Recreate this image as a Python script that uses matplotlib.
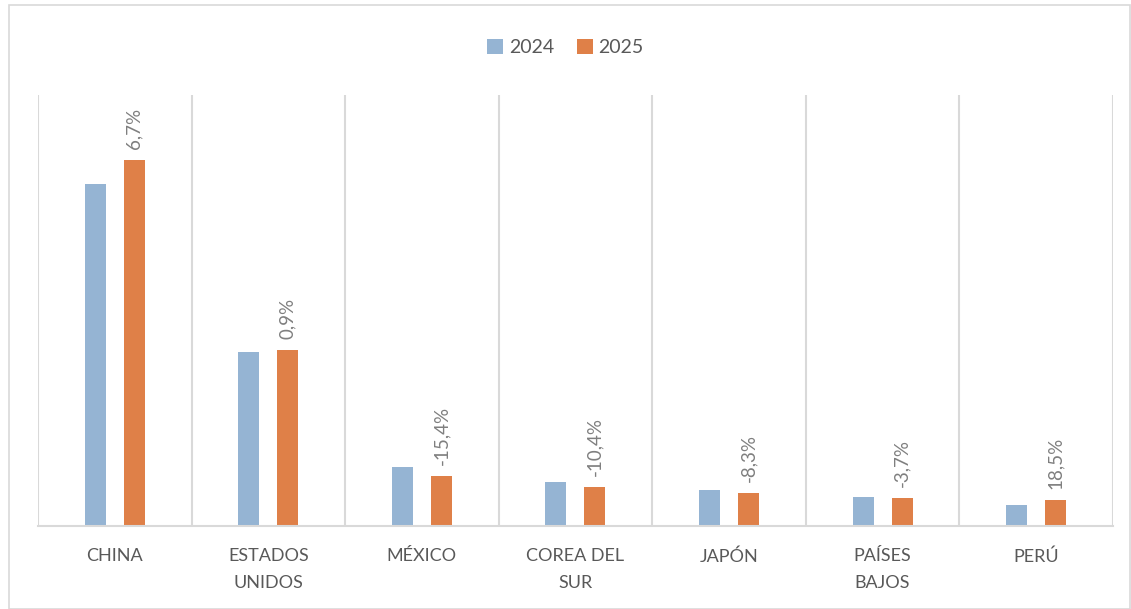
import matplotlib.pyplot as plt
import numpy as np
from matplotlib.patches import Rectangle

plt.rcParams['font.family'] = ['Lato', 'DejaVu Sans']

countries = ['CHINA', 'ESTADOS\nUNIDOS', 'MÉXICO', 'COREA DEL\nSUR', 'JAPÓN', 'PAÍSES\nBAJOS', 'PERÚ']
values_2024 = [342, 174, 59, 44, 36, 29, 21]
values_2025 = [366, 176, 50, 39, 33, 28, 26]
growth = ['6,7%', '0,9%', '-15,4%', '-10,4%', '-8,3%', '-3,7%', '18,5%']

blue = '#95B4D3'
orange = '#DF8048'
grid_col = '#D9D9D9'

fig = plt.figure(figsize=(11.31, 6.09), dpi=100)
ax = fig.add_axes([0.0336, 0.1363, 0.9504, 0.7077])

x = np.arange(len(countries))
w = 0.137
off = 0.127
ax.bar(x - off, values_2024, w, color=blue, label='2024')
ax.bar(x + off, values_2025, w, color=orange, label='2025')

# growth labels above the 2025 bars
for xi, v, g in zip(x, values_2025, growth):
    ax.annotate(g, (xi + off, v), xytext=(0, 8), textcoords='offset points',
                rotation=90, ha='center', va='bottom', fontsize=13.5, color='#7F7F7F')

ax.set_xlim(-0.5, len(countries) - 0.5)
ax.set_ylim(0, 431)
for b in np.arange(-0.5, len(countries), 1.0):
    ax.axvline(b, color=grid_col, lw=1.5, zorder=0)

for s in ['top', 'right', 'left']:
    ax.spines[s].set_visible(False)
ax.spines['bottom'].set_color(grid_col)
ax.spines['bottom'].set_linewidth(1.5)
ax.set_yticks([])
ax.set_xticks(x)
ax.set_xticklabels(countries, fontsize=13, color='#595959', linespacing=1.8)
ax.tick_params(axis='x', length=0, pad=16)

fig.legend(loc='upper center', bbox_to_anchor=(0.5, 0.965), ncol=2, frameon=False,
           fontsize=14, labelcolor='#595959', handlelength=0.8, handleheight=0.8,
           handletextpad=0.3, columnspacing=1.2)

fig.patches.append(Rectangle((0.008, 0.0), 0.991, 0.992, transform=fig.transFigure,
                             fill=False, edgecolor=grid_col, lw=1.2))

fig.savefig('out.png', dpi=100)
